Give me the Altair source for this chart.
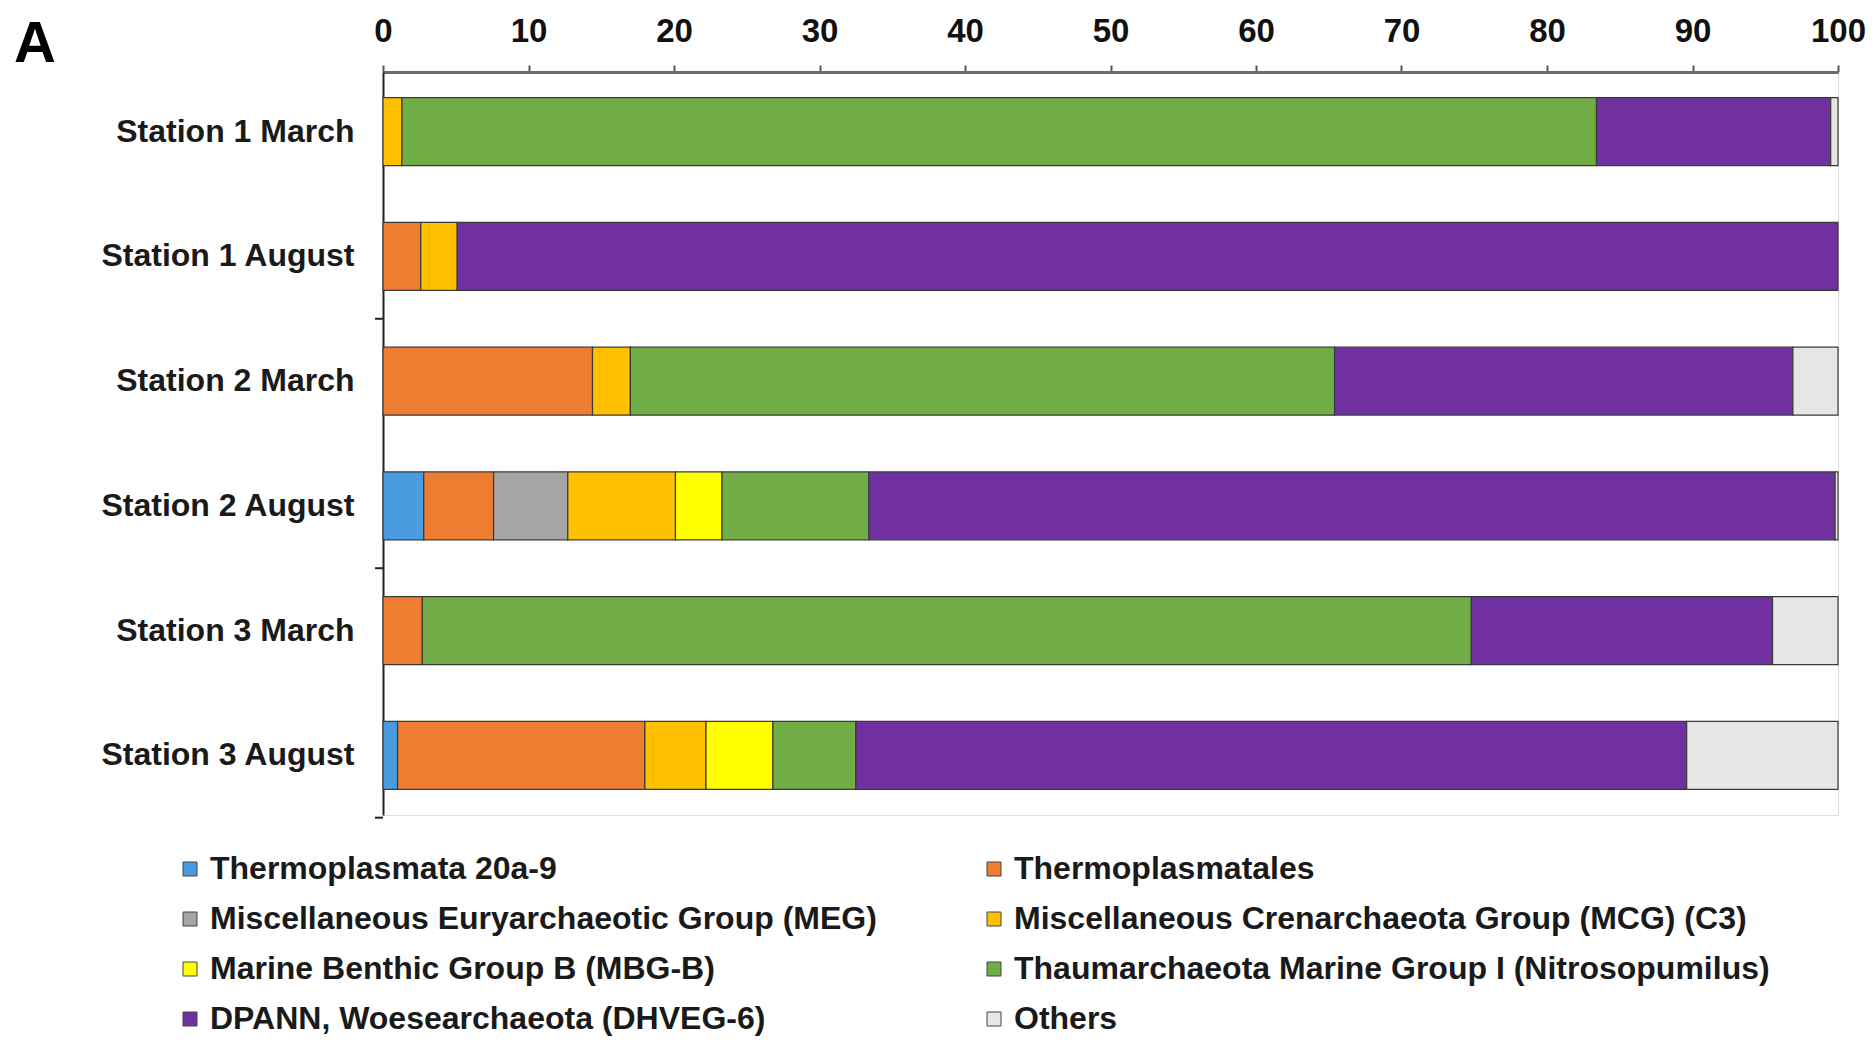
import altair as alt
import pandas as pd

FONT = "Liberation Sans"

PANEL = ["A"]

STATIONS = ["Station 1 March", "Station 1 August", "Station 2 March",
            "Station 2 August", "Station 3 March", "Station 3 August"]
GROUP_ENDS = ["Station 1 August", "Station 2 August", "Station 3 August"]

TAXA = ["Thermoplasmata 20a-9",
        "Thermoplasmatales",
        "Miscellaneous Euryarchaeotic Group (MEG)",
        "Miscellaneous Crenarchaeota Group (MCG) (C3)",
        "Marine Benthic Group B (MBG-B)",
        "Thaumarchaeota Marine Group I (Nitrosopumilus)",
        "DPANN, Woesearchaeota (DHVEG-6)",
        "Others"]
COLORS = ["#4a9be0", "#ed7d31", "#a5a5a5", "#ffc000", "#ffff00",
          "#70ad47", "#7030a0", "#e6e6e6"]

# values (%) per taxon, in the order of STATIONS
T20A9 = [0.0, 0.0, 0.0, 2.8, 0.0, 1.0]
THERMO = [0.0, 2.6, 14.4, 4.8, 2.7, 17.0]
MEG = [0.0, 0.0, 0.0, 5.1, 0.0, 0.0]
MCG = [1.3, 2.5, 2.6, 7.4, 0.0, 4.2]
MBGB = [0.0, 0.0, 0.0, 3.2, 0.0, 4.6]
THAUM = [82.1, 0.0, 48.4, 10.1, 72.1, 5.7]
DPANN = [16.1, 94.9, 31.5, 66.4, 20.7, 57.1]
OTHERS = [0.5, 0.0, 3.1, 0.2, 4.5, 10.4]

SERIES = [T20A9, THERMO, MEG, MCG, MBGB, THAUM, DPANN, OTHERS]
X_TICKS = [0, 10, 20, 30, 40, 50, 60, 70, 80, 90, 100]

rows = []
for ti, (taxon, vals) in enumerate(zip(TAXA, SERIES)):
    for st, v in zip(STATIONS, vals):
        if v > 0:
            rows.append({"station": st, "taxon": taxon, "value": v, "idx": ti})
df = pd.DataFrame(rows)

W, H = 1455, 743
P_IN = 0.455
P_OUT = 0.206
STEP = H / (len(STATIONS) - P_IN + 2 * P_OUT)
HALF_GAP = STEP * P_IN / 2

yscale = alt.Scale(domain=STATIONS, paddingInner=P_IN, paddingOuter=P_OUT)

bars = alt.Chart(df).mark_bar(stroke="#3a3a3a", strokeWidth=1.2).encode(
    x=alt.X("value:Q", stack="zero",
            scale=alt.Scale(domain=[0, 100], nice=False, zero=True),
            axis=alt.Axis(orient="top", values=X_TICKS, title=None, grid=False,
                          labelFont=FONT, labelFontSize=33, labelFontWeight="bold",
                          labelColor="#111", labelPadding=17, labelFlush=False,
                          tickSize=7, tickColor="#555", tickWidth=2,
                          domainColor="#6b6b6b", domainWidth=3)),
    y=alt.Y("station:N", scale=yscale,
            axis=alt.Axis(title=None, ticks=False, labelFont=FONT, labelFontSize=32,
                          labelFontWeight="bold", labelColor="#1a1a1a",
                          labelPadding=29, labelLimit=1000,
                          domainColor="#222", domainWidth=2)),
    color=alt.Color("taxon:N", scale=alt.Scale(domain=TAXA, range=COLORS),
                    legend=alt.Legend(title=None, orient="none", legendX=-209, legendY=781,
                                      direction="horizontal",
                                      columns=2, columnPadding=101, rowPadding=18,
                                      symbolType="square", symbolSize=196,
                                      symbolStrokeColor="#444", symbolStrokeWidth=1,
                                      symbolOpacity=1, labelOffset=4,
                                      labelFont=FONT, labelFontSize=32,
                                      labelFontWeight="bold", labelColor="#1a1a1a",
                                      labelLimit=2000, padding=0)),
    order=alt.Order("idx:Q"),
)

ticks = alt.Chart(pd.DataFrame({"station": GROUP_ENDS})).mark_rule(
    color="#222", strokeWidth=2, yOffset=HALF_GAP).encode(
    y=alt.Y("station:N", scale=yscale, bandPosition=1),
    x=alt.value(0),
    x2=alt.value(-8),
)

panel = alt.Chart(pd.DataFrame({"t": PANEL})).mark_text(
    align="left", baseline="alphabetic", fontSize=58, fontWeight="bold",
    font=FONT, color="#000").encode(
    x=alt.value(-369), y=alt.value(-10), text="t:N")

chart = alt.layer(bars, ticks, panel).properties(
    width=W, height=H,
    padding={"left": 375, "top": 64, "right": 28, "bottom": 224},
    autosize=alt.AutoSizeParams(type="none"),
).configure_view(stroke=None).configure(background="white")

chart.save("out.html", embed_options={"renderer": "svg", "actions": False})
